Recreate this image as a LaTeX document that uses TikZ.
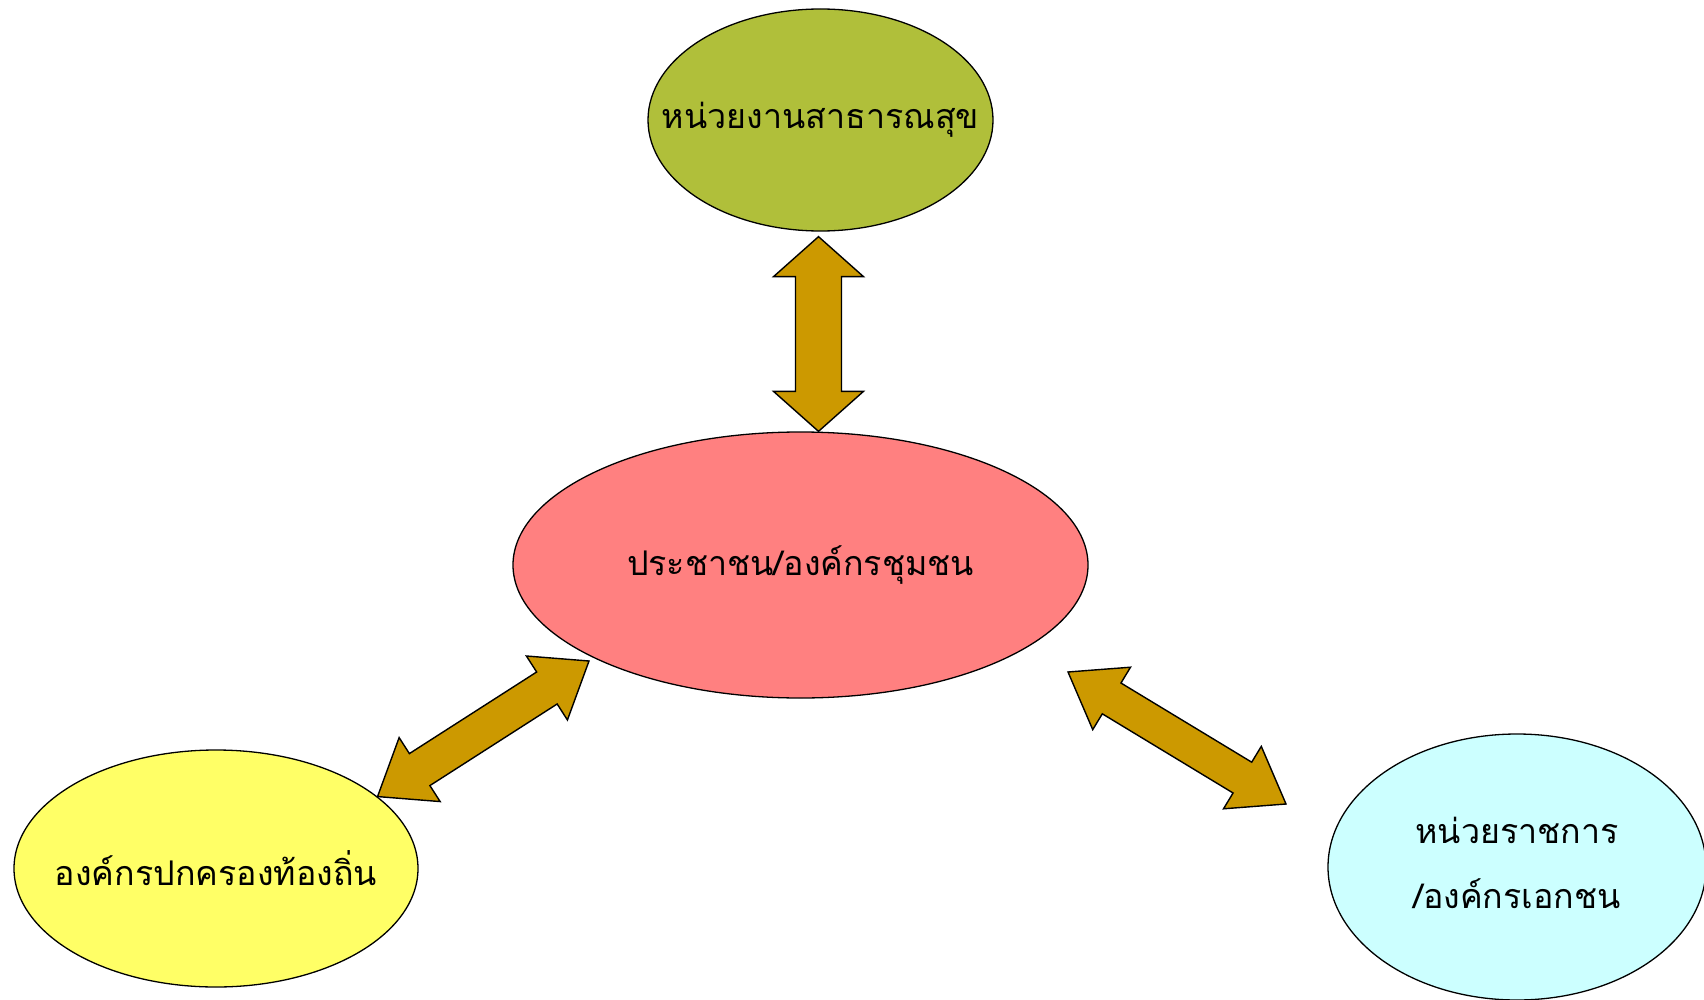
\documentclass[tikz,border=0pt]{standalone}
\usepackage{fontspec}
\newfontfamily\thaifont[Script=Thai]{Loma}
\usetikzlibrary{shapes.geometric, calc}

\definecolor{health}{RGB}{176,191,58}
\definecolor{people}{RGB}{255,128,128}
\definecolor{local}{RGB}{255,255,102}
\definecolor{agency}{RGB}{204,255,255}
\definecolor{arrowgold}{RGB}{204,153,0}

\tikzstyle{bubble} = [ellipse, draw=black, line width=1.3pt, inner sep=0pt, font=\thaifont\fontsize{34}{45}\selectfont]
\tikzstyle{blockarrow} = [draw=black, fill=arrowgold, line width=1.4pt, line join=miter]

% two-headed block arrow: from, to, head length, head half width, shaft half width
\newcommand{\dblarrow}[5]{%
  \draw[blockarrow] (#1)
    -- ($(#1)!#3!(#2)!#4!90:(#2)$) -- ($(#1)!#3!(#2)!#5!90:(#2)$)
    -- ($(#2)!#3!(#1)!#5!-90:(#1)$) -- ($(#2)!#3!(#1)!#4!-90:(#1)$)
    -- (#2)
    -- ($(#2)!#3!(#1)!#4!90:(#1)$) -- ($(#2)!#3!(#1)!#5!90:(#1)$)
    -- ($(#1)!#3!(#2)!#5!-90:(#2)$) -- ($(#1)!#3!(#2)!#4!-90:(#2)$)
    -- cycle;}

\begin{document}
\begin{tikzpicture}[x=1pt, y=-1pt]
			\useasboundingbox (0,0) rectangle (1704,1000);
			\node[bubble, fill=health, minimum width=345pt, minimum height=222pt] (health) at (820.5,120) {\makebox[0pt]{หน่วยงานสาธารณสุข}};
			\node[bubble, fill=people, minimum width=575pt, minimum height=266pt] (people) at (800.5,565) {\makebox[0pt]{ประชาชน/องค์กรชุมชน}};
			\node[bubble, fill=local, minimum width=404pt, minimum height=237pt] (local) at (216,868.5) {\makebox[0pt]{องค์กรปกครองท้องถิ่น}};
			\node[bubble, fill=agency, minimum width=378pt, minimum height=266pt] (agency) at (1517,867) {\makebox[0pt]{\begin{tabular}{@{}c@{}}หน่วยราชการ\\[20pt]/องค์กรเอกชน\end{tabular}}};
			
			\coordinate (h1) at ($(health.south)+(-2,5)$);
			\coordinate (h2) at (h1 |- people.north);
			\coordinate (l1) at ($(people.center)+(-211.5,96)$);
			\coordinate (a1) at ($(people.center)+(267.5,107)$);
			\coordinate (a2) at ($(agency.center)+(-231,-63)$);
			
			\dblarrow{h1}{h2}{40pt}{45pt}{23pt}
			\dblarrow{local.24}{l1}{50pt}{38pt}{19pt}
			\dblarrow{a1}{a2}{51pt}{36.5pt}{18pt}
			
		\end{tikzpicture}
\end{document}
